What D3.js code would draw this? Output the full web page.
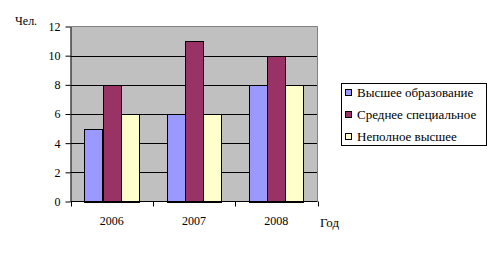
<!DOCTYPE html>
<html><head><meta charset="utf-8">
<script src="https://cdn.jsdelivr.net/npm/d3@7"></script>
<style>body{margin:0;background:#fff}svg{display:block}</style>
</head><body>
<script>
const categories = ["2006", "2007", "2008"];
const seriesNames = ["Высшее образование", "Среднее специальное", "Неполное высшее"];
const higher = [5, 6, 8];
const secondarySpecial = [8, 11, 10];
const incompleteHigher = [6, 6, 8];
const yTicks = [0, 2, 4, 6, 8, 10, 12];
const colors = ["#9999ff", "#993366", "#ffffcc"];
const values = [higher, secondarySpecial, incompleteHigher];
const FONT = "'Liberation Serif', 'Times New Roman', Times, serif";

const W = 490, H = 271;
const svg = d3.select("body").append("svg").attr("width", W).attr("height", H)
  .attr("font-family", FONT);
const L = 70.5, R = 317.5, T = 26.5, B = 201.5;
const x = d3.scaleBand().domain(categories).range([L, R]).paddingInner(0).paddingOuter(0);
const inner = d3.scaleBand().domain(d3.range(3)).range([0, x.bandwidth()]).paddingInner(0).paddingOuter(0.75);
const y = d3.scaleLinear().domain([0, 12]).range([B, T]);

svg.append("rect").attr("x", L).attr("y", T).attr("width", R - L).attr("height", B - T).attr("fill", "#c0c0c0");
svg.append("g").selectAll("line").data(yTicks.filter(d => d > 0 && d < 12)).join("line")
  .attr("x1", L).attr("x2", R).attr("y1", d => Math.round(y(d)) + 0.5).attr("y2", d => Math.round(y(d)) + 0.5)
  .attr("stroke", "#000").attr("stroke-width", 1);
svg.append("path").attr("d", `M${L},${T}H${R}V${B}`).attr("fill", "none").attr("stroke", "#808080").attr("stroke-width", 1);

const g = svg.append("g");
values.forEach((arr, si) => {
  g.selectAll(null).data(arr).join("rect")
    .attr("x", (d, i) => Math.round(x(categories[i]) + inner(si)) + 0.5)
    .attr("y", d => Math.round(y(d)) + 0.5)
    .attr("width", Math.round(inner.bandwidth()))
    .attr("height", d => Math.round(y(0)) - Math.round(y(d)))
    .attr("fill", colors[si]).attr("stroke", "#000").attr("stroke-width", 1);
});

const ya = svg.append("g").attr("transform", `translate(${L},0)`)
  .call(d3.axisLeft(y).tickValues(yTicks).tickSize(5).tickSizeOuter(0).tickPadding(5));
ya.attr("font-family", FONT).attr("font-size", 12);
ya.select(".domain").attr("stroke", "#000");
ya.selectAll(".tick line").attr("stroke", "#000");
ya.selectAll("text").attr("fill", "#000");

svg.append("line").attr("x1", L).attr("x2", R).attr("y1", B).attr("y2", B).attr("stroke", "#000");
svg.append("g").selectAll("line").data(d3.range(categories.length + 1)).join("line")
  .attr("x1", i => Math.round(L + i * x.step()) + 0.5).attr("x2", i => Math.round(L + i * x.step()) + 0.5)
  .attr("y1", B).attr("y2", B + 5).attr("stroke", "#000");
svg.append("g").selectAll("text").data(categories).join("text")
  .attr("x", d => x(d) + x.bandwidth() / 2).attr("y", 225).attr("text-anchor", "middle")
  .attr("font-size", 12).text(d => d);

svg.append("text").attr("x", 15).attr("y", 25).attr("font-size", 12).text("Чел.");
svg.append("text").attr("x", 320).attr("y", 227).attr("font-size", 13).text("Год");

const lg = svg.append("g");
lg.append("rect").attr("x", 341.5).attr("y", 83.5).attr("width", 145).attr("height", 62).attr("fill", "#fff").attr("stroke", "#000");
const rowsY = [93, 115, 137];
seriesNames.forEach((n, i) => {
  lg.append("rect").attr("x", 345.5).attr("y", rowsY[i] - 3.5).attr("width", 6).attr("height", 6)
    .attr("fill", colors[i]).attr("stroke", "#000");
  lg.append("text").attr("x", 357).attr("y", rowsY[i] + 4).attr("font-size", 13).text(n);
});
</script>
</body></html>
